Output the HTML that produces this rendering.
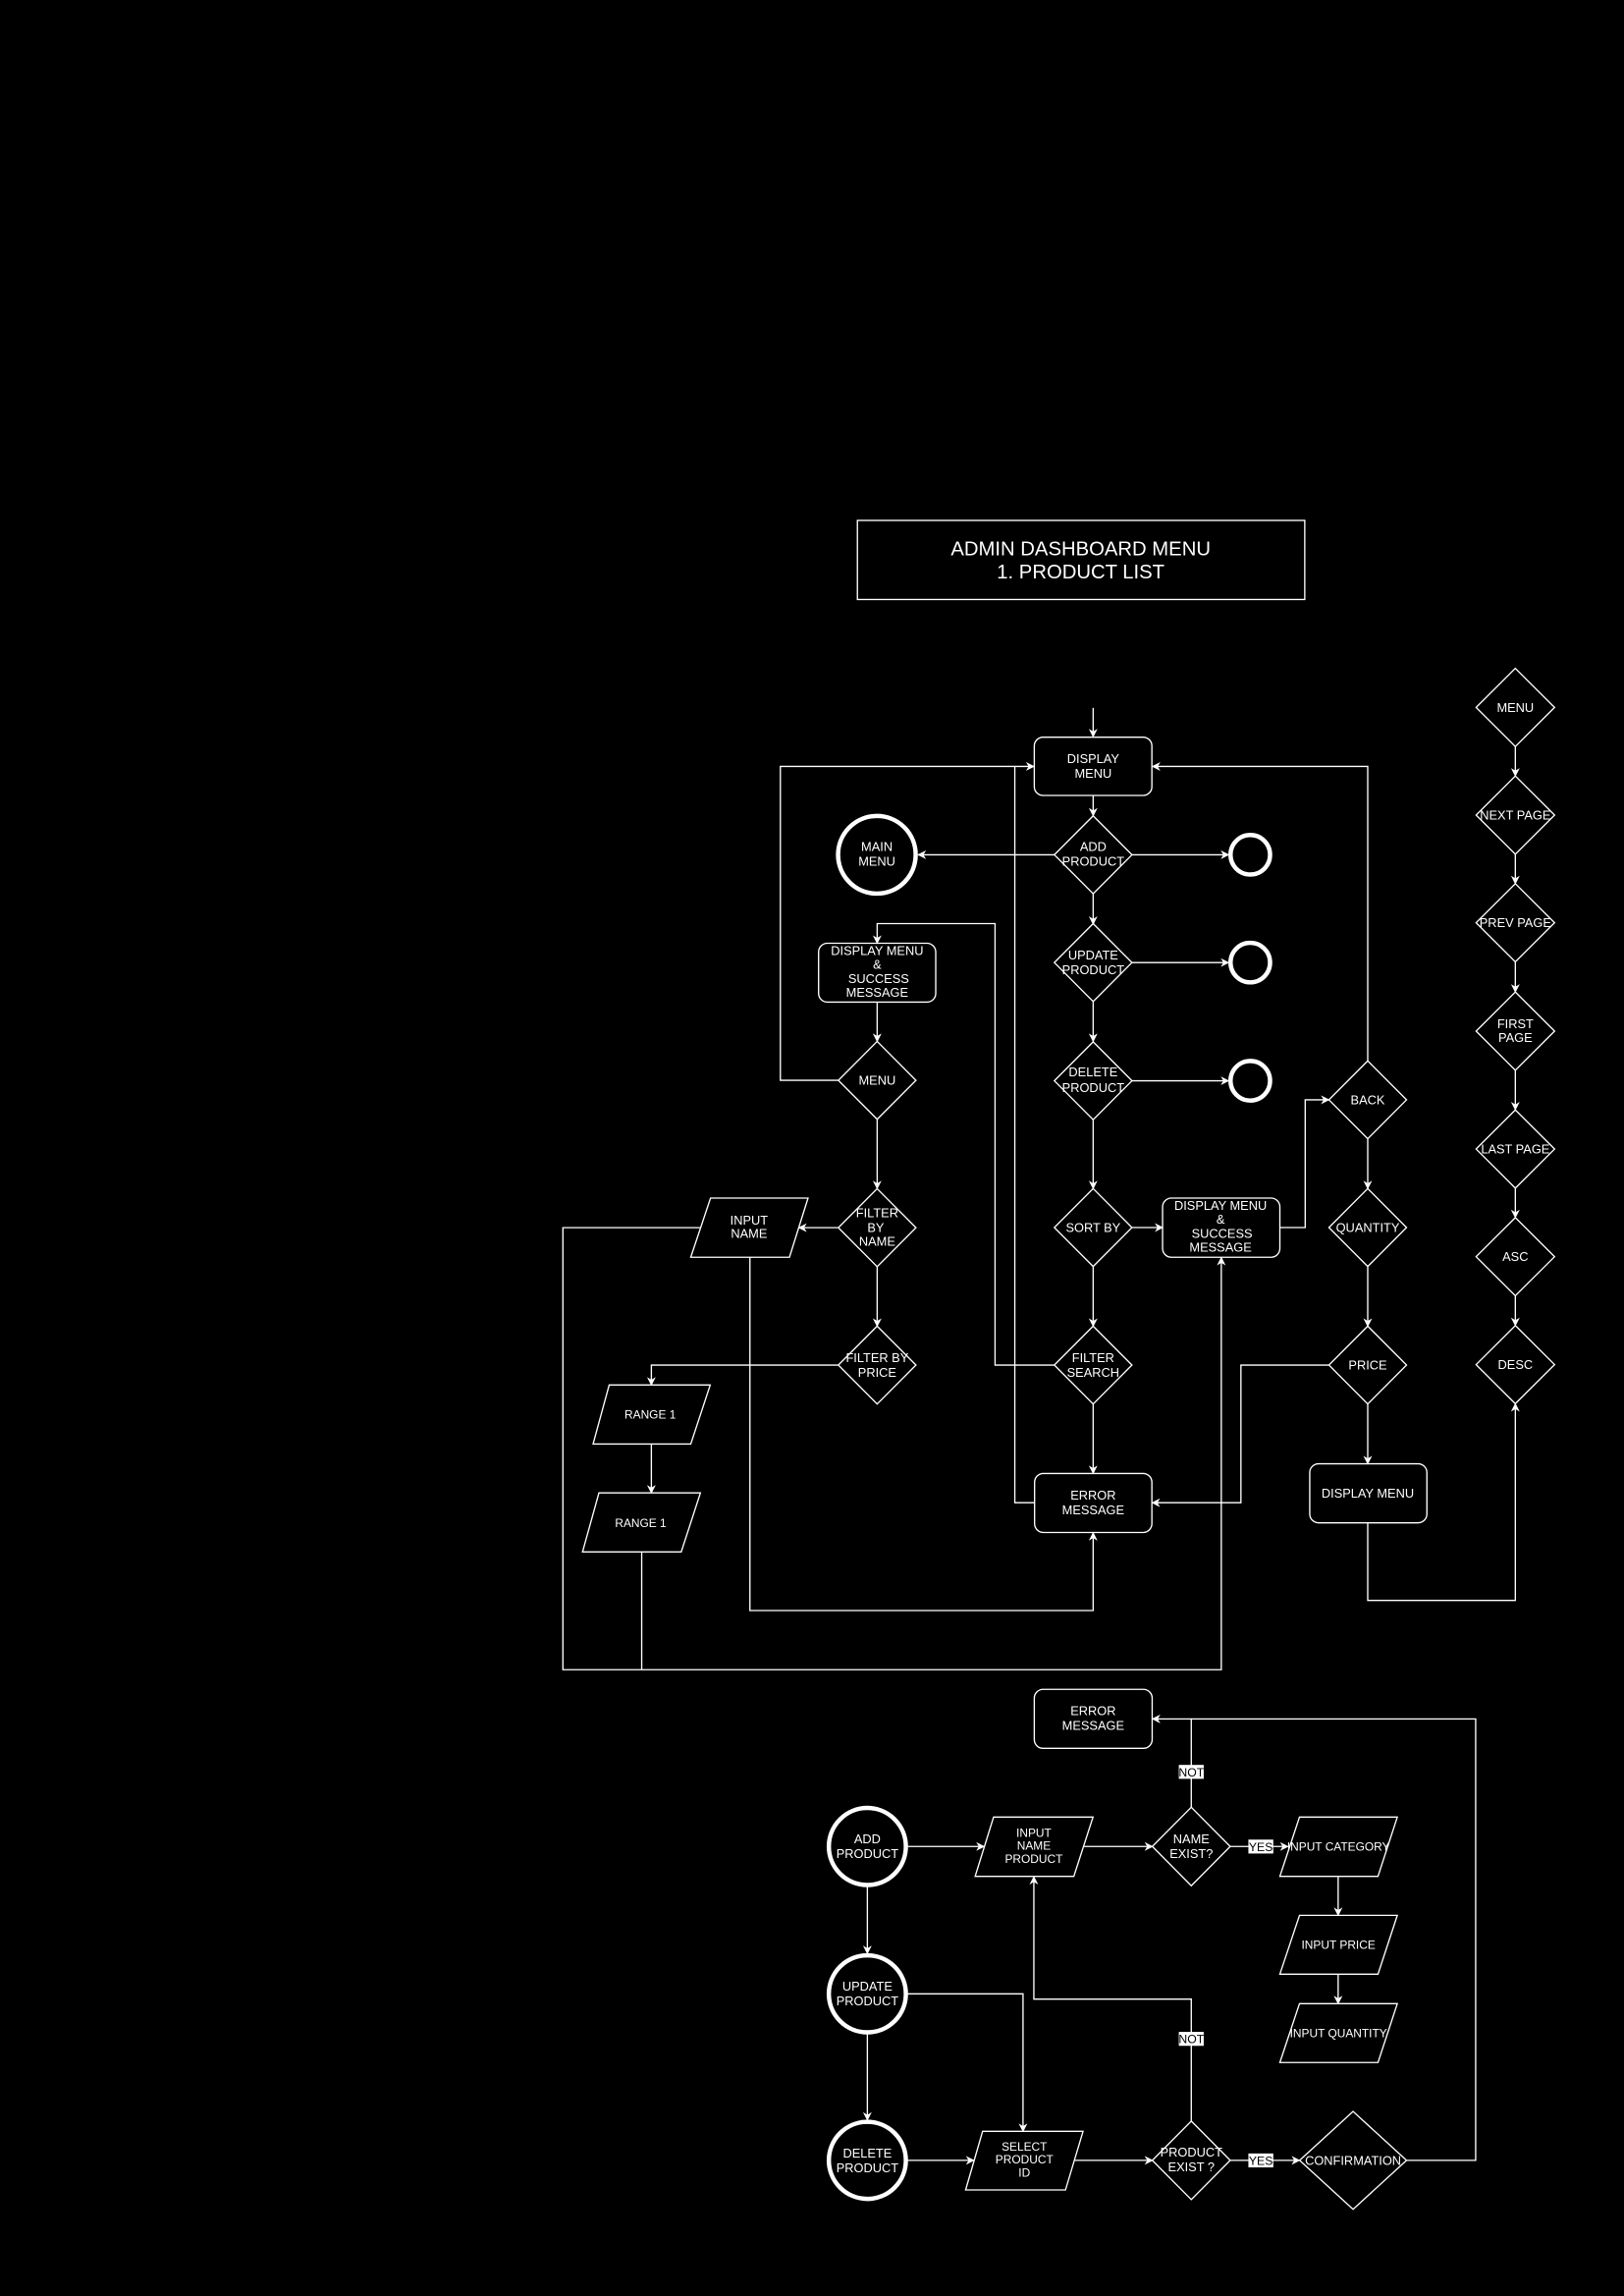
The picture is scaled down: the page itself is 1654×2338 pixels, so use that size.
<!DOCTYPE html>
<html><head><meta charset="utf-8"><style>
html,body{margin:0;padding:0;background:#000;}
svg{display:block}
text{font-family:"Liberation Sans",Arial,sans-serif;fill:#fff;font-size:8.6px;text-anchor:middle;}
text.lbl{fill:#000;font-size:8.2px;}
</style></head><body>
<svg width="1654" height="2338" viewBox="0 0 1109 1567.6" xmlns="http://www.w3.org/2000/svg">
<defs>
<marker id="a" viewBox="0 0 10 10" refX="9" refY="5" markerWidth="6" markerHeight="6" orient="auto" markerUnits="userSpaceOnUse">
<path d="M0,0 L10,5 L0,10 L3,5 z" fill="#fff"/></marker>
</defs>
<rect width="1109" height="1567.6" fill="#000"/>
<g fill="none" stroke="#fff" stroke-width="0.9">
<rect x="585.5" y="355.3" width="305.5" height="54"/>
<path d="M746.5 483.3 V503" marker-end="url(#a)"/>
<path d="M746.5 543 V557" marker-end="url(#a)"/>
<path d="M746.5 610 V631" marker-end="url(#a)"/>
<path d="M746.5 684 V711" marker-end="url(#a)"/>
<path d="M746.5 764 V811.5" marker-end="url(#a)"/>
<path d="M746.5 864.5 V905.5" marker-end="url(#a)"/>
<path d="M746.5 958.5 V1006" marker-end="url(#a)"/>
<path d="M720 583.6 H627" marker-end="url(#a)"/>
<path d="M773 583.6 H839" marker-end="url(#a)"/>
<path d="M773 657.2 H839" marker-end="url(#a)"/>
<path d="M773 737.9 H839" marker-end="url(#a)"/>
<path d="M773 838.1 H794" marker-end="url(#a)"/>
<path d="M874 838.1 H891.3 V750.9 H907.5" marker-end="url(#a)"/>
<path d="M934 724.4 V523.3 H787" marker-end="url(#a)"/>
<path d="M934 777.4 V811.5" marker-end="url(#a)"/>
<path d="M934 864.5 V905.5" marker-end="url(#a)"/>
<path d="M934 958.5 V999.4" marker-end="url(#a)"/>
<path d="M934 1039.7 V1092.7 H1034.8 V958.4" marker-end="url(#a)"/>
<path d="M907.5 932 H847.4 V1026 H786.8" marker-end="url(#a)"/>
<path d="M706.5 1026 H693 V523.3 H706" marker-end="url(#a)"/>
<path d="M572.3 737.6 H532.9 V523.3 H693"/>
<path d="M720 932 H679.5 V630.6 H599 V644" marker-end="url(#a)"/>
<path d="M599 684.2 V711" marker-end="url(#a)"/>
<path d="M599 764 V811.5" marker-end="url(#a)"/>
<path d="M599 864.8 V905.5" marker-end="url(#a)"/>
<path d="M572.3 838.2 H545.5" marker-end="url(#a)"/>
<path d="M478 838.2 H384.4 V1140 H834 V858.6" marker-end="url(#a)"/>
<path d="M512.1 858.4 V1099.6 H746.5 V1046.5" marker-end="url(#a)"/>
<path d="M572.3 932 H444.8 V945.6" marker-end="url(#a)"/>
<path d="M444.8 986 V1019.3" marker-end="url(#a)"/>
<path d="M438.2 1059.6 V1140"/>
<path d="M1034.8 509.7 V529.8" marker-end="url(#a)"/>
<path d="M1034.8 583.3 V603.3" marker-end="url(#a)"/>
<path d="M1034.8 656.8 V677.3" marker-end="url(#a)"/>
<path d="M1034.8 730.8 V757.7" marker-end="url(#a)"/>
<path d="M1034.8 811.3 V831.3" marker-end="url(#a)"/>
<path d="M1034.8 884.8 V905" marker-end="url(#a)"/>
<path d="M620 1260.7 H672" marker-end="url(#a)"/>
<path d="M740 1260.7 H787" marker-end="url(#a)"/>
<path d="M840 1260.7 H879.5" marker-end="url(#a)"/>
<path d="M813.5 1234 V1173.6 H787" marker-end="url(#a)"/>
<path d="M913.8 1281.1 V1307.7" marker-end="url(#a)"/>
<path d="M913.8 1347.9 V1368" marker-end="url(#a)"/>
<path d="M592.3 1288.2 V1333.8" marker-end="url(#a)"/>
<path d="M592.3 1388.8 V1447.5" marker-end="url(#a)"/>
<path d="M620 1475 H665" marker-end="url(#a)"/>
<path d="M620 1361.3 H698.6 V1455.2" marker-end="url(#a)"/>
<path d="M733.5 1475 H787" marker-end="url(#a)"/>
<path d="M840 1475 H887.4" marker-end="url(#a)"/>
<path d="M813.5 1448.7 V1364.9 H706 V1281.3" marker-end="url(#a)"/>
<path d="M960.5 1475 H1007.7 V1173.6 H813.5"/>
<rect x="706.3" y="503.3" width="80.3" height="39.8" rx="6"/>
<rect x="559" y="644" width="80" height="40.2" rx="6"/>
<rect x="793.9" y="818" width="80.1" height="40.4" rx="6"/>
<rect x="706.5" y="1006" width="80.1" height="40.3" rx="6"/>
<rect x="894.4" y="999.4" width="80" height="40.3" rx="6"/>
<rect x="706.3" y="1153.4" width="80.5" height="40.3" rx="6"/>
<path d="M746.5 557 L773 583.6 L746.5 610.2 L720 583.6 Z"/>
<path d="M746.5 630.6 L773 657.2 L746.5 683.8 L720 657.2 Z"/>
<path d="M746.5 711.3 L773 737.9 L746.5 764.5 L720 737.9 Z"/>
<path d="M746.5 811.5 L773 838.1 L746.5 864.7 L720 838.1 Z"/>
<path d="M746.5 905.4 L773 932 L746.5 958.6 L720 932 Z"/>
<path d="M599 711 L625.5 737.6 L599 764.2 L572.5 737.6 Z"/>
<path d="M599 811.6 L625.5 838.2 L599 864.8 L572.5 838.2 Z"/>
<path d="M599 905.4 L625.5 932 L599 958.6 L572.5 932 Z"/>
<path d="M934 724.3 L960.5 750.9 L934 777.5 L907.5 750.9 Z"/>
<path d="M934 811.5 L960.5 838.1 L934 864.7 L907.5 838.1 Z"/>
<path d="M934 905.4 L960.5 932 L934 958.6 L907.5 932 Z"/>
<path d="M1034.8 456.3 L1061.6 483 L1034.8 509.7 L1008 483 Z"/>
<path d="M1034.8 529.8 L1061.6 556.5 L1034.8 583.2 L1008 556.5 Z"/>
<path d="M1034.8 603.3 L1061.6 630 L1034.8 656.7 L1008 630 Z"/>
<path d="M1034.8 677.3 L1061.6 704 L1034.8 730.7 L1008 704 Z"/>
<path d="M1034.8 757.8 L1061.6 784.5 L1034.8 811.2 L1008 784.5 Z"/>
<path d="M1034.8 831.3 L1061.6 858 L1034.8 884.7 L1008 858 Z"/>
<path d="M1034.8 905 L1061.6 931.7 L1034.8 958.4 L1008 931.7 Z"/>
<path d="M813.5 1233.9 L840.1 1260.7 L813.5 1287.5 L786.9 1260.7 Z"/>
<path d="M813.5 1448.2 L840.1 1475 L813.5 1501.8 L786.9 1475 Z"/>
<path d="M924 1441.6 L960.5 1475 L924 1508.4 L887.5 1475 Z"/>
<path d="M485.2 818 H551.8 L539.1 858.4 H471.7 Z"/>
<path d="M416 945.6 H485 L471.7 985.9 H405 Z"/>
<path d="M409 1019.3 H478.3 L465.2 1059.6 H397.8 Z"/>
<path d="M678.5 1240.6 H746.4 L733.3 1281.1 H665.9 Z"/>
<path d="M887.4 1240.6 H954.2 L941 1281.1 H874 Z"/>
<path d="M887.4 1307.7 H954.2 L941 1347.9 H874 Z"/>
<path d="M887.4 1368 H954.2 L941 1408.2 H874 Z"/>
<path d="M671 1455.2 H739.6 L727.6 1495.2 H659.4 Z"/>
</g>
<g fill="none" stroke="#fff" stroke-width="3">
<circle cx="598.8" cy="583.6" r="26.5"/>
<circle cx="853.8" cy="583.6" r="13.5"/>
<circle cx="853.8" cy="657.2" r="13.5"/>
<circle cx="853.8" cy="737.9" r="13.5"/>
<circle cx="592.3" cy="1260.7" r="26.3"/>
<circle cx="592.3" cy="1361.3" r="26.3"/>
<circle cx="592.3" cy="1475" r="26.3"/>
</g>
<g fill="#fff">
<rect x="805" y="1205" width="17" height="9.5"/>
<rect x="805" y="1387.3" width="17" height="9.5"/>
<rect x="852.5" y="1256" width="17" height="9.5"/>
<rect x="852.5" y="1470.3" width="17" height="9.5"/>
</g>
<text class="lbl" x="813.5" y="1212.8">NOT</text>
<text class="lbl" x="813.5" y="1395.1">NOT</text>
<text class="lbl" x="861" y="1263.8">YES</text>
<text class="lbl" x="861" y="1478.1">YES</text>
<text x="738" y="379" style="font-size:13.6px">ADMIN DASHBOARD MENU</text>
<text x="738" y="395" style="font-size:13.6px">1. PRODUCT LIST</text>
<text x="746.5" y="521">DISPLAY</text><text x="746.5" y="531">MENU</text>
<text x="746.5" y="581">ADD</text><text x="746.5" y="591">PRODUCT</text>
<text x="746.5" y="655">UPDATE</text><text x="746.5" y="665">PRODUCT</text>
<text x="746.5" y="735">DELETE</text><text x="746.5" y="745.5">PRODUCT</text>
<text x="746.5" y="841">SORT BY</text>
<text x="746.5" y="930">FILTER</text><text x="746.5" y="940">SEARCH</text>
<text x="746.5" y="1024">ERROR</text><text x="746.5" y="1034">MESSAGE</text>
<text x="598.8" y="581">MAIN</text><text x="598.8" y="591">MENU</text>
<text x="599" y="652">DISPLAY MENU</text><text x="599" y="661.5">&amp;</text><text x="600" y="671">SUCCESS</text><text x="599" y="680.5">MESSAGE</text>
<text x="599" y="740.5">MENU</text>
<text x="599" y="831">FILTER</text><text x="598" y="841">BY</text><text x="599" y="850.5">NAME</text>
<text x="599" y="930">FILTER BY</text><text x="599" y="940">PRICE</text>
<text x="511.5" y="836">INPUT</text><text x="511.5" y="845">NAME</text>
<text x="444" y="968.5" style="font-size:8px">RANGE 1</text>
<text x="437.5" y="1042.5" style="font-size:8px">RANGE 1</text>
<text x="833.5" y="826">DISPLAY MENU</text><text x="833.5" y="835.5">&amp;</text><text x="834.5" y="845">SUCCESS</text><text x="833.5" y="854.5">MESSAGE</text>
<text x="934" y="754">BACK</text>
<text x="934" y="841">QUANTITY</text>
<text x="934" y="935">PRICE</text>
<text x="934" y="1022.5">DISPLAY MENU</text>
<text x="1034.8" y="486">MENU</text>
<text x="1034.8" y="559.5">NEXT PAGE</text>
<text x="1034.8" y="633">PREV PAGE</text>
<text x="1034.8" y="702">FIRST</text><text x="1034.8" y="711.5">PAGE</text>
<text x="1034.8" y="787.5">LAST PAGE</text>
<text x="1034.8" y="861">ASC</text>
<text x="1034.8" y="934.7">DESC</text>
<text x="746.5" y="1171">ERROR</text><text x="746.5" y="1181">MESSAGE</text>
<text x="592.3" y="1258.5">ADD</text><text x="592.3" y="1268.5">PRODUCT</text>
<text x="592.3" y="1359">UPDATE</text><text x="592.3" y="1369">PRODUCT</text>
<text x="592.3" y="1473">DELETE</text><text x="592.3" y="1483">PRODUCT</text>
<text x="706" y="1254" style="font-size:8px">INPUT</text><text x="706" y="1263" style="font-size:8px">NAME</text><text x="706" y="1272" style="font-size:8px">PRODUCT</text>
<text x="813.5" y="1258.5">NAME</text><text x="813.5" y="1268.5">EXIST?</text>
<text x="914" y="1263.5" style="font-size:8px">INPUT CATEGORY</text>
<text x="914" y="1330.5" style="font-size:8px">INPUT PRICE</text>
<text x="914" y="1391" style="font-size:8px">INPUT QUANTITY</text>
<text x="699.5" y="1468.5" style="font-size:8px">SELECT</text><text x="699.5" y="1477" style="font-size:8px">PRODUCT</text><text x="699.5" y="1486" style="font-size:8px">ID</text>
<text x="813.5" y="1472.5">PRODUCT</text><text x="813.5" y="1482.5">EXIST ?</text>
<text x="924" y="1478">CONFIRMATION</text>
</svg>
</body></html>
